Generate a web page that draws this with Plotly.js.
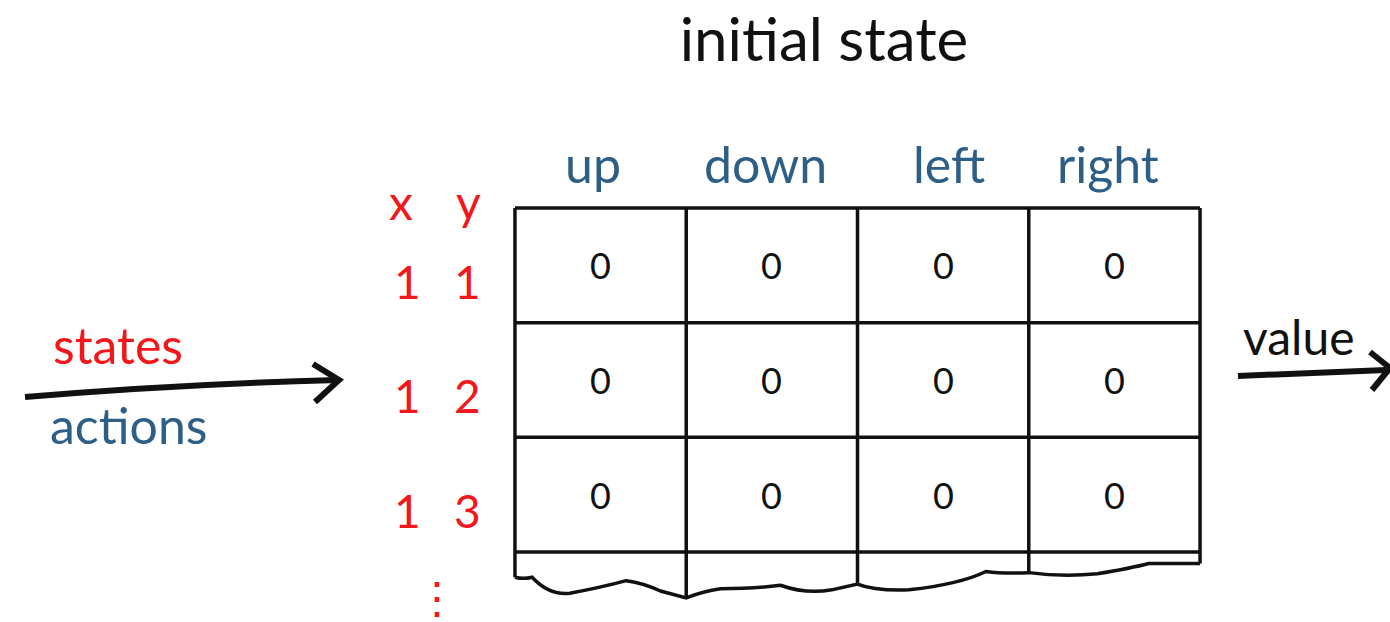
<!DOCTYPE html>
<html>
<head>
<meta charset="utf-8">
<script src="https://cdn.plot.ly/plotly-3.0.1.min.js"></script>
<style>html,body{margin:0;padding:0;background:#fff;}#chart{width:1390px;height:622px;}</style>
</head>
<body>
<div id="chart"></div>
<script>
// ---- data ----
var chartTitle = "initial state";
var actions = ["up", "down", "left", "right"];
var stateHeader = ["x", "y"];
var stateX = [1, 1, 1];
var stateY = [1, 2, 3];
var qValues = [
  [0, 0, 0, 0],
  [0, 0, 0, 0],
  [0, 0, 0, 0]
];
var inputLabels = ["states", "actions"];
var outputLabel = "value";

// ---- styles ----
var RED = "#f2171b";
var BLUE = "#2d5f86";
var INK = "#111111";
var FONT = "Lato, 'Noto Sans', sans-serif";
var LW = 3.5;

var nCols = actions.length, nRows = qValues.length;

// invisible anchor trace for the table subplot (cell values drawn as annotations below)
var tx = [], ty = [];
qValues.forEach(function (row, r) { row.forEach(function (v, c) { tx.push(c); ty.push(r); }); });
var traces = [{
  type: "scatter", mode: "markers", x: tx, y: ty, marker: { size: 1, opacity: 0 },
  xaxis: "x2", yaxis: "y2", hoverinfo: "skip", showlegend: false
}];

// ---- grid shapes ----
var shapes = [];
var ext = [2.72, 2.9, 2.78, 2.68, 2.6]; // torn-edge depth under each vertical line
for (var c = 0; c <= nCols; c++) {
  shapes.push({ type: "line", xref: "x2", yref: "y2", x0: c - 0.5, x1: c - 0.5, y0: -0.5, y1: ext[c],
    line: { color: INK, width: LW } });
}
for (var r = 0; r <= nRows; r++) {
  shapes.push({ type: "line", xref: "x2", yref: "y2", x0: -0.5, x1: nCols - 0.5, y0: r - 0.5, y1: r - 0.5,
    line: { color: INK, width: LW } });
}
// torn paper bottom
shapes.push({ type: "path", xref: "x2", yref: "y2",
  path: "M -0.5 2.72 Q -0.45 2.74 -0.4 2.72 Q -0.3 2.88 -0.18 2.86 Q 0 2.81 0.15 2.75 Q 0.25 2.77 0.35 2.84 L 0.5 2.9 " +
        "Q 0.6 2.84 0.7 2.82 Q 0.9 2.82 1.05 2.79 Q 1.2 2.87 1.35 2.83 L 1.5 2.78 " +
        "Q 1.6 2.84 1.8 2.83 Q 2.1 2.78 2.25 2.67 Q 2.35 2.69 2.5 2.68 " +
        "Q 2.7 2.72 2.9 2.69 Q 3.1 2.64 3.2 2.6 L 3.5 2.6",
  line: { color: INK, width: LW } });

// arrows on the full-canvas pixel axes
shapes.push({ type: "path", xref: "x", yref: "y", path: "M 25 397 Q 180 384 338 380", line: { color: INK, width: 6 } });
shapes.push({ type: "path", xref: "x", yref: "y", path: "M 313 364 L 339 380 L 315 402", line: { color: INK, width: 6 } });
shapes.push({ type: "path", xref: "x", yref: "y", path: "M 1238 376 Q 1310 373 1386 370", line: { color: INK, width: 6 } });
shapes.push({ type: "path", xref: "x", yref: "y", path: "M 1370 352 L 1390 368 L 1372 390", line: { color: INK, width: 6 } });

// ---- annotations ----
var ann = [];
qValues.forEach(function (row, r) {
  row.forEach(function (v, c) {
    ann.push({ xref: "x2", yref: "y2", x: c, y: r, yshift: 0, text: String(v), showarrow: false,
      xanchor: "center", yanchor: "middle", font: { family: FONT, size: 36, color: INK } });
  });
});
actions.forEach(function (a, i) {
  ann.push({ xref: "x2", yref: "y2", x: i, y: -0.5, yshift: 44, xshift: [-8, -6, 6, -6][i],
    text: a, showarrow: false, xanchor: "center", yanchor: "middle", font: { family: FONT, size: 50, color: BLUE } });
});
stateHeader.forEach(function (h, j) {
  ann.push({ xref: "x2", yref: "y2", x: -0.5, y: -0.5, xshift: j === 0 ? -114 : -46, yshift: 6,
    text: h, showarrow: false, xanchor: "center", yanchor: "middle", font: { family: FONT, size: 48, color: RED } });
});
for (var k = 0; k < nRows; k++) {
  ann.push({ xref: "x2", yref: "y2", x: -0.5, y: k, xshift: -107, yshift: -16,
    text: String(stateX[k]), showarrow: false, xanchor: "center", yanchor: "middle", font: { family: FONT, size: 46, color: RED } });
  ann.push({ xref: "x2", yref: "y2", x: -0.5, y: k, xshift: -47, yshift: -16,
    text: String(stateY[k]), showarrow: false, xanchor: "center", yanchor: "middle", font: { family: FONT, size: 46, color: RED } });
}
ann.push({ xref: "x2", yref: "y2", x: -0.5, y: nRows - 0.5, xshift: -78, yshift: -44,
  text: "⋮", showarrow: false, xanchor: "center", yanchor: "middle", font: { family: FONT, size: 44, color: RED } });
ann.push({ xref: "paper", yref: "paper", x: 118 / 1390, y: 1 - 345 / 622, text: inputLabels[0], showarrow: false,
  xanchor: "center", yanchor: "middle", font: { family: FONT, size: 50, color: RED } });
ann.push({ xref: "paper", yref: "paper", x: 128 / 1390, y: 1 - 425 / 622, text: inputLabels[1], showarrow: false,
  xanchor: "center", yanchor: "middle", font: { family: FONT, size: 50, color: BLUE } });
ann.push({ xref: "paper", yref: "paper", x: 1299 / 1390, y: 1 - 336 / 622, text: outputLabel, showarrow: false,
  xanchor: "center", yanchor: "middle", font: { family: FONT, size: 48, color: INK } });

var hidden = { visible: false, showgrid: false, zeroline: false, fixedrange: true };
var layout = {
  width: 1390, height: 622,
  margin: { l: 0, r: 0, t: 0, b: 0 },
  paper_bgcolor: "#ffffff", plot_bgcolor: "rgba(0,0,0,0)",
  showlegend: false,
  title: { text: chartTitle, x: 824 / 1390, xanchor: "center", y: 1 - 40 / 622, yanchor: "middle",
    font: { family: FONT, size: 60, color: INK } },
  xaxis: Object.assign({ range: [0, 1390], domain: [0, 1] }, hidden),
  yaxis: Object.assign({ range: [622, 0], domain: [0, 1] }, hidden),
  xaxis2: Object.assign({ range: [-0.55, nCols - 0.45], domain: [(515 - 8.6) / 1390, (1200 + 8.6) / 1390], anchor: "y2" }, hidden),
  yaxis2: Object.assign({ range: [2.95, -0.55], domain: [1 - (552 + 0.45 * 114.67) / 622, 1 - (208 - 0.05 * 114.67) / 622], anchor: "x2" }, hidden),
  shapes: shapes,
  annotations: ann
};
Plotly.newPlot("chart", traces, layout, { staticPlot: true, displayModeBar: false });
</script>
</body>
</html>
